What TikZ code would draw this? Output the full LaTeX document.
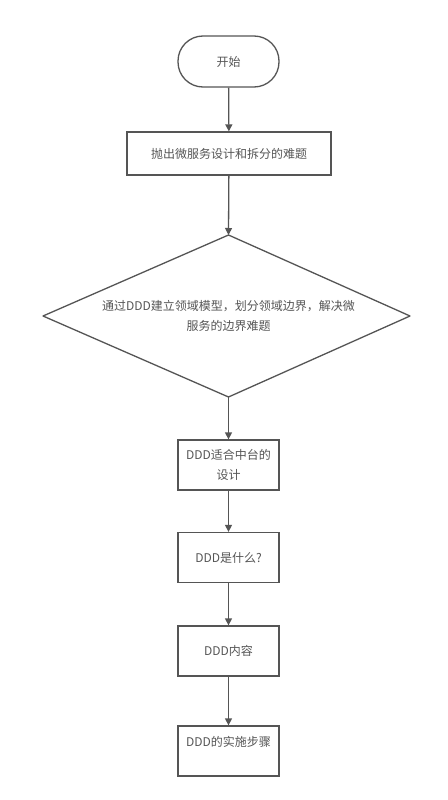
\documentclass[tikz,border=0pt]{standalone}
\usepackage{fontspec}
\setmainfont{Noto Sans CJK SC}
\usetikzlibrary{shapes.geometric,arrows.meta}
\definecolor{linegray}{HTML}{555555}
\definecolor{textgray}{HTML}{555555}
\begin{document}
\begin{tikzpicture}[x=1pt,y=-1pt,
  base/.style={draw=linegray,line width=1.3pt,fill=white,text=textgray,font=\fontsize{12}{20}\selectfont,align=center,inner sep=0pt},
  plaintext/.style={text=textgray,font=\fontsize{12}{20}\selectfont,align=center,inner sep=0pt},
  procbox/.style={base,rectangle,minimum width=101pt,minimum height=50pt},
  arr/.style={draw=linegray,line width=1.3pt,-{Triangle[length=7pt,width=7pt]}}]
\useasboundingbox[fill=white] (0,0) rectangle (447,800);
\node[base,rectangle,rounded corners=25pt,minimum width=101pt,minimum height=51pt] (start) at (228.5,61.5) {开始};
\node[base,rectangle,minimum width=204pt,minimum height=43pt] (b2) at (229,153.5) {抛出微服务设计和拆分的难题};
\coordinate (dtop) at (228.5,235);
\coordinate (dleft) at (43,316);
\coordinate (dright) at (410,316);
\coordinate (dbot) at (228.5,397);
\draw[draw=linegray,line width=1.3pt,line join=round] (dtop) -- (dright) -- (dbot) -- (dleft) -- cycle;
\node[plaintext] (d) at (228.5,316) {通过DDD建立领域模型，划分领域边界，解决微\\服务的边界难题};
\node[procbox] (b3) at (228.5,465) {DDD适合中台的\\设计};
\node[procbox] (b4) at (228.5,557.5) {DDD是什么?};
\node[procbox] (b5) at (228.5,651) {DDD内容};
\node[procbox] (b6) at (228.5,751) {};
\node[plaintext] (t6) at (228.5,742) {DDD的实施步骤};
\draw[arr] (start) -- (b2);
\draw[arr] (b2) -- (dtop);
\draw[arr] (dbot) -- (b3);
\draw[arr] (b3) -- (b4);
\draw[arr] (b4) -- (b5);
\draw[arr] (b5) -- (b6);
\end{tikzpicture}
\end{document}
